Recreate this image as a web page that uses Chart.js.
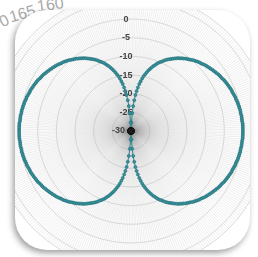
<!DOCTYPE html>
<html>
<head>
<meta charset="utf-8">
<script src="https://cdn.jsdelivr.net/npm/chart.js@4/dist/chart.umd.min.js"></script>
<style>
  html, body { margin: 0; padding: 0; background: #fff; }
  body { width: 258px; height: 257px; position: relative; overflow: hidden; }
  .bg-label { position: absolute; font-family: "Liberation Sans", Arial, sans-serif; font-size: 16px; color: #aaa; white-space: pre; }
  .card {
    position: absolute; left: 15px; top: 10px; width: 235px; height: 240px;
    border-radius: 32px; background: #fff; overflow: hidden;
    box-shadow: -2px 3px 6px rgba(0,0,0,0.38);
  }
  #chart-polar { position: absolute; left: -29px; top: -24px; }
</style>
</head>
<body>
<span class="bg-label" style="left:-17px;top:16px;transform:rotate(-26deg)">170</span>
<span class="bg-label" style="left:9px;top:5px;transform:rotate(-16deg)">165</span>
<span class="bg-label" style="left:37px;top:-4px;transform:rotate(-8deg)">160</span>
<div class="card">
  <canvas id="chart-polar" width="290" height="290"></canvas>
</div>
<script>
// gain in dB, one value per degree, clockwise from the top
var gainNE = [-30,-30,-30,-27.7,-25.2,-23.3,-21.7,-20.3,-19.2,-18.2,-17.2,-16.4,-15.6,-14.9,-14.3,-13.7,-13.1,-12.6,-12.1,-11.6,-11.2,-10.7,-10.3,-9.9,-9.6,-9.2,-8.8,-8.5,-8.2,-7.9,-7.6,-7.3,-7.0,-6.7,-6.5,-6.2,-6.0,-5.7,-5.5,-5.3,-5.1,-4.8,-4.6,-4.4,-4.2,-4.0,-3.9,-3.7,-3.5,-3.3,-3.2,-3.0,-2.9,-2.7,-2.6,-2.4,-2.3,-2.1,-2.0,-1.9,-1.8,-1.6,-1.5,-1.4,-1.3,-1.2,-1.1,-1.0,-0.9,-0.9,-0.8,-0.7,-0.6,-0.6,-0.5,-0.4,-0.4,-0.3,-0.3,-0.2,-0.2,-0.2,-0.1,-0.1,-0.1,-0.1,0,0,0,0];
var gainSE = [0,0,0,0,0,-0.1,-0.1,-0.1,-0.1,-0.2,-0.2,-0.2,-0.3,-0.3,-0.4,-0.4,-0.5,-0.6,-0.6,-0.7,-0.8,-0.9,-0.9,-1.0,-1.1,-1.2,-1.3,-1.4,-1.5,-1.6,-1.8,-1.9,-2.0,-2.1,-2.3,-2.4,-2.6,-2.7,-2.9,-3.0,-3.2,-3.3,-3.5,-3.7,-3.9,-4.0,-4.2,-4.4,-4.6,-4.8,-5.1,-5.3,-5.5,-5.7,-6.0,-6.2,-6.5,-6.7,-7.0,-7.3,-7.6,-7.9,-8.2,-8.5,-8.8,-9.2,-9.6,-9.9,-10.3,-10.7,-11.2,-11.6,-12.1,-12.6,-13.1,-13.7,-14.3,-14.9,-15.6,-16.4,-17.2,-18.2,-19.2,-20.3,-21.7,-23.3,-25.2,-27.7,-30,-30];
var gainSW = [-30,-30,-30,-27.7,-25.2,-23.3,-21.7,-20.3,-19.2,-18.2,-17.2,-16.4,-15.6,-14.9,-14.3,-13.7,-13.1,-12.6,-12.1,-11.6,-11.2,-10.7,-10.3,-9.9,-9.6,-9.2,-8.8,-8.5,-8.2,-7.9,-7.6,-7.3,-7.0,-6.7,-6.5,-6.2,-6.0,-5.7,-5.5,-5.3,-5.1,-4.8,-4.6,-4.4,-4.2,-4.0,-3.9,-3.7,-3.5,-3.3,-3.2,-3.0,-2.9,-2.7,-2.6,-2.4,-2.3,-2.1,-2.0,-1.9,-1.8,-1.6,-1.5,-1.4,-1.3,-1.2,-1.1,-1.0,-0.9,-0.9,-0.8,-0.7,-0.6,-0.6,-0.5,-0.4,-0.4,-0.3,-0.3,-0.2,-0.2,-0.2,-0.1,-0.1,-0.1,-0.1,0,0,0,0];
var gainNW = [0,0,0,0,0,-0.1,-0.1,-0.1,-0.1,-0.2,-0.2,-0.2,-0.3,-0.3,-0.4,-0.4,-0.5,-0.6,-0.6,-0.7,-0.8,-0.9,-0.9,-1.0,-1.1,-1.2,-1.3,-1.4,-1.5,-1.6,-1.8,-1.9,-2.0,-2.1,-2.3,-2.4,-2.6,-2.7,-2.9,-3.0,-3.2,-3.3,-3.5,-3.7,-3.9,-4.0,-4.2,-4.4,-4.6,-4.8,-5.1,-5.3,-5.5,-5.7,-6.0,-6.2,-6.5,-6.7,-7.0,-7.3,-7.6,-7.9,-8.2,-8.5,-8.8,-9.2,-9.6,-9.9,-10.3,-10.7,-11.2,-11.6,-12.1,-12.6,-13.1,-13.7,-14.3,-14.9,-15.6,-16.4,-17.2,-18.2,-19.2,-20.3,-21.7,-23.3,-25.2,-27.7,-30,-30];
var dbTicks = [-30, -25, -20, -15, -10, -5, 0];

var gain = gainNE.concat(gainSE, gainSW, gainNW);
var angles = gain.map(function (v, i) { return String(i); });

var ctx = document.getElementById('chart-polar').getContext('2d');
var polar = new Chart(ctx, {
  type: 'radar',
  data: {
    labels: angles,
    datasets: [{
      data: gain,
      fill: false,
      borderColor: '#2d808a',
      borderWidth: 1,
      pointRadius: function (c) { return c.raw <= -30 ? 3.2 : 1.5; },
      pointBackgroundColor: function (c) { return c.raw <= -30 ? '#1c1c1c' : '#3a95a0'; },
      pointBorderColor: function (c) { return c.raw <= -30 ? '#111' : '#25717a'; },
      pointBorderWidth: 0.7
    }]
  },
  options: {
    responsive: false,
    animation: false,
    devicePixelRatio: 1,
    plugins: { legend: { display: false }, tooltip: { enabled: false } },
    scales: {
      r: {
        min: -30,
        max: 7,
        startAngle: 0,
        ticks: {
          stepSize: 5,
          color: '#444',
          font: { family: 'Liberation Sans', size: 9, weight: 'bold' },
          showLabelBackdrop: false,
          callback: function (v) {
            if (dbTicks.indexOf(v) < 0) return '';
            return v === -30 ? v + '          ' : v + '    ';
          }
        },
        grid: { color: '#d4d4d4', lineWidth: 0.8 },
        angleLines: { color: 'rgba(130,130,130,0.28)', lineWidth: 0.5 },
        pointLabels: { display: false }
      }
    }
  }
});
</script>
</body>
</html>
